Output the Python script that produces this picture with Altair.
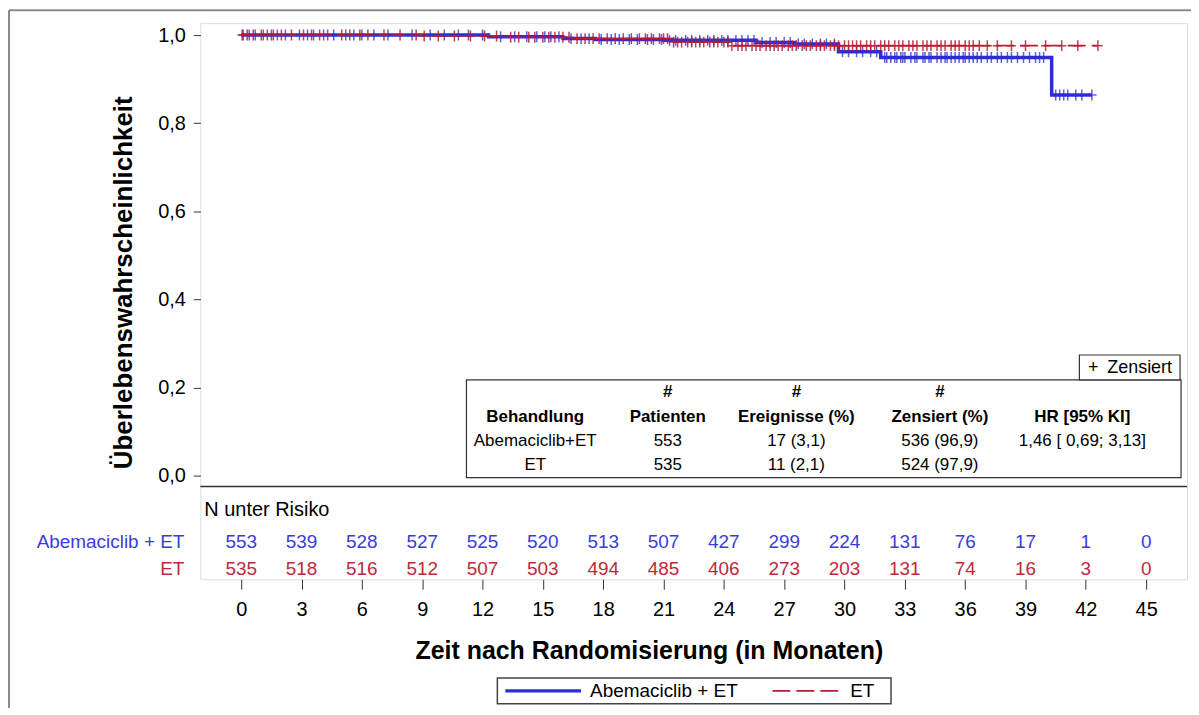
import altair as alt
import pandas as pd

BLUE = "#2c2cd8"
RED = "#b81d33"
BLUE_TXT = "#3b3be0"
RED_TXT = "#c0283a"
FONT = "Liberation Sans, Arial, sans-serif"

arms = ["Abemaciclib + ET", "ET"]

# Kaplan-Meier step curves (months, survival probability)
abema_t = [0, 12.3, 16.0, 17.6, 21.0, 25.6, 27.5, 29.7, 31.8, 40.3, 42.3]
abema_s = [1.0, 0.996, 0.992, 0.990, 0.988, 0.983, 0.980, 0.962, 0.949, 0.864, 0.864]
et_t = [0, 9.0, 13.0, 16.5, 21.5, 24.3, 42.6]
et_s = [1.0, 0.998, 0.995, 0.992, 0.984, 0.976, 0.976]

# censoring times (months)
abema_cens = [0.1, 0.4, 0.7, 1.1, 1.5, 1.8, 2.2, 2.9, 3.3, 3.6, 4.1, 4.6, 5.2, 5.6, 6.0,
              6.6, 7.3, 8.5, 9.4, 10.1, 10.8, 11.3, 12.0, 12.9, 13.6, 14.2, 14.7, 15.1,
              15.4, 15.8, 16.4, 16.9, 17.3, 17.9, 18.4, 18.8, 19.3, 19.7, 20.2, 20.5,
              20.9, 21.3, 21.6, 22.1, 22.4, 22.8, 23.2, 23.5, 23.9, 24.2, 24.6, 24.9,
              25.2, 25.5, 25.9, 26.3, 26.6, 27.0, 27.3, 27.7, 28.0, 28.4, 28.8, 29.1,
              29.5, 29.9, 30.2, 30.6, 30.9, 31.3, 31.6, 32.0, 32.1, 32.3, 32.5, 32.6,
              32.8, 32.9, 33.0, 33.3, 33.5, 33.6, 33.9, 34.0, 34.2, 34.3, 34.6, 34.8,
              35.0, 35.1, 35.3, 35.5, 35.7, 35.9, 36.0, 36.2, 36.4, 36.6, 36.8, 37.1,
              37.3, 37.6, 37.8, 38.1, 38.3, 38.6, 38.9, 39.2, 39.5, 39.7, 39.9, 40.5,
              40.7, 40.9, 41.1, 41.5, 41.8, 42.3]
et_cens = [0.05, 0.3, 0.6, 1.0, 1.3, 1.6, 2.0, 2.5, 3.1, 3.5, 3.9, 4.3, 5.0, 5.4, 5.9,
           6.3, 7.1, 7.9, 8.7, 9.1, 9.8, 10.6, 11.4, 12.1, 12.7, 13.4, 13.8, 14.3, 14.6,
           15.0, 15.3, 15.6, 16.0, 16.3, 16.7, 17.1, 17.5, 17.8, 18.2, 18.6, 19.0, 19.4,
           19.8, 20.1, 20.4, 20.8, 21.0, 21.2, 21.5, 21.7, 21.9, 22.2, 22.4, 22.6, 22.8,
           23.0, 23.3, 23.5, 23.7, 24.0, 24.2, 24.4, 24.7, 24.9, 25.1, 25.4, 25.6, 25.8,
           26.1, 26.3, 26.5, 26.7, 26.9, 27.2, 27.4, 27.6, 27.9, 28.1, 28.3, 28.6, 28.8,
           29.0, 29.3, 29.5, 29.7, 30.0, 30.2, 30.4, 30.6, 30.8, 31.1, 31.3, 31.5, 31.8,
           32.0, 32.2, 32.5, 32.7, 32.9, 33.2, 33.4, 33.6, 33.9, 34.1, 34.3, 34.6, 34.8,
           35.0, 35.3, 35.5, 35.7, 36.0, 36.2, 36.4, 36.7, 37.1, 37.6, 38.3, 39.0, 40.0,
           40.8, 41.6, 42.6]

# numbers at risk
risk_times = [0, 3, 6, 9, 12, 15, 18, 21, 24, 27, 30, 33, 36, 39, 42, 45]
abema_risk = [553, 539, 528, 527, 525, 520, 513, 507, 427, 299, 224, 131, 76, 17, 1, 0]
et_risk = [535, 518, 516, 512, 507, 503, 494, 485, 406, 273, 203, 131, 74, 16, 3, 0]

y_ticks = [0.0, 0.2, 0.4, 0.6, 0.8, 1.0]

# summary table
table_hash = ["", "#", "#", "#", ""]
table_head = ["Behandlung", "Patienten", "Ereignisse (%)", "Zensiert (%)", "HR [95% KI]"]
table_row1 = ["Abemaciclib+ET", "553", "17 (3,1)", "536 (96,9)", "1,46 [ 0,69; 3,13]"]
table_row2 = ["ET", "535", "11 (2,1)", "524 (97,9)", ""]

# ---------------- layout (pixels, relative to plot area) ----------------
W, H = 990, 558
COL_X = [336, 469, 598, 742, 885]
ROW_Y = [370, 395, 419, 443]


def step_value(times, surv, t):
    v = surv[0]
    for ti, si in zip(times, surv):
        if ti <= t:
            v = si
    return v


line_df = pd.DataFrame(
    [{"arm": arms[0], "t": t, "s": s} for t, s in zip(abema_t, abema_s)]
    + [{"arm": arms[1], "t": t, "s": s} for t, s in zip(et_t, et_s)]
)
cens_a = pd.DataFrame({"t": abema_cens, "s": [step_value(abema_t, abema_s, t) for t in abema_cens]})
cens_e = pd.DataFrame({"t": et_cens, "s": [step_value(et_t, et_s, t) for t in et_cens]})
risk_a = pd.DataFrame({"t": risk_times, "n": [str(v) for v in abema_risk]})
risk_e = pd.DataFrame({"t": risk_times, "n": [str(v) for v in et_risk]})

head_rows = []
for i, txt in enumerate(table_hash):
    if txt:
        head_rows.append({"txt": txt, "px": COL_X[i], "py": ROW_Y[0]})
for i, txt in enumerate(table_head):
    head_rows.append({"txt": txt, "px": COL_X[i], "py": ROW_Y[1]})
body_rows = []
for r, row in enumerate([table_row1, table_row2]):
    for i, txt in enumerate(row):
        if txt:
            body_rows.append({"txt": txt, "px": COL_X[i], "py": ROW_Y[2 + r]})
head_df = pd.DataFrame(head_rows)
body_df = pd.DataFrame(body_rows)
ONE = pd.DataFrame({"k": [0]})

X_SCALE = alt.Scale(domain=[-2.03, 47.03], nice=False, zero=False)
Y_SCALE = alt.Scale(domain=[-0.2353, 1.0271], nice=False, zero=False)
X_AXIS = alt.Axis(values=risk_times, title="Zeit nach Randomisierung (in Monaten)",
                  tickSize=10, labelFontSize=20, labelPadding=10, titleFontSize=25,
                  titleFontWeight="bold", titlePadding=20, titleX=450, grid=False,
                  domain=False, tickColor="#333", labelColor="black", titleColor="black")
Y_AXIS = alt.Axis(values=y_ticks, title="Überlebenswahrscheinlichkeit",
                  labelExpr="replace(format(datum.value, '.1f'), '.', ',')",
                  tickSize=7, labelFontSize=20, labelPadding=8, titleFontSize=26,
                  titleFontWeight="bold", titlePadding=21, titleY=260, grid=False,
                  domain=False, tickColor="#333", labelColor="black", titleColor="black")

PLUS = "M-0.85,0L0.85,0M0,-1L0,1"

lines = alt.Chart(line_df).mark_line(interpolate="step-after").encode(
    x=alt.X("t:Q", scale=X_SCALE, axis=X_AXIS),
    y=alt.Y("s:Q", scale=Y_SCALE, axis=Y_AXIS),
    color=alt.Color("arm:N", scale=alt.Scale(domain=arms, range=[BLUE, RED]), legend=None),
    strokeDash=alt.StrokeDash("arm:N", scale=alt.Scale(domain=arms, range=[[1, 0], [18, 6]]), legend=None),
    strokeWidth=alt.StrokeWidth("arm:N", scale=alt.Scale(domain=arms, range=[3.5, 1.6]), legend=None),
)

cens_blue = alt.Chart(cens_a).mark_point(shape=PLUS, size=120, filled=False, color=BLUE,
                                         strokeWidth=1.5, opacity=0.75).encode(
    x=alt.X("t:Q", scale=X_SCALE, axis=X_AXIS), y=alt.Y("s:Q", scale=Y_SCALE, axis=Y_AXIS))
cens_red = alt.Chart(cens_e).mark_point(shape=PLUS, size=120, filled=False, color=RED,
                                        strokeWidth=1.5, opacity=0.85).encode(
    x=alt.X("t:Q", scale=X_SCALE, axis=X_AXIS), y=alt.Y("s:Q", scale=Y_SCALE, axis=Y_AXIS))

risk_blue = alt.Chart(risk_a).mark_text(color=BLUE_TXT, fontSize=19, font=FONT).encode(
    x=alt.X("t:Q", scale=X_SCALE, axis=X_AXIS), y=alt.value(521), text="n:N")
risk_red = alt.Chart(risk_e).mark_text(color=RED_TXT, fontSize=19, font=FONT).encode(
    x=alt.X("t:Q", scale=X_SCALE, axis=X_AXIS), y=alt.value(548), text="n:N")

divider = alt.Chart(ONE).mark_rule(color="#333", strokeWidth=1.5).encode(
    x=alt.value(0), x2=alt.value(W), y=alt.value(465))
risk_title = alt.Chart(ONE).mark_text(text="N unter Risiko", align="left", fontSize=20,
                                      font=FONT, color="black").encode(
    x=alt.value(4), y=alt.value(489))
lab_blue = alt.Chart(ONE).mark_text(text="Abemaciclib + ET", align="right", fontSize=19,
                                    font=FONT, color=BLUE_TXT).encode(
    x=alt.value(-16), y=alt.value(521))
lab_red = alt.Chart(ONE).mark_text(text="ET", align="right", fontSize=19,
                                   font=FONT, color=RED_TXT).encode(
    x=alt.value(-16), y=alt.value(548))

table_box = alt.Chart(ONE).mark_rect(fill="white", stroke="#333", strokeWidth=1.2).encode(
    x=alt.value(267), x2=alt.value(984), y=alt.value(358), y2=alt.value(456))
cens_box = alt.Chart(ONE).mark_rect(fill="white", stroke="#333", strokeWidth=1.2).encode(
    x=alt.value(882), x2=alt.value(983), y=alt.value(333), y2=alt.value(358))
cens_plus = alt.Chart(ONE).mark_text(text="+", align="center", fontSize=18,
                                     font=FONT, color="black").encode(
    x=alt.value(896), y=alt.value(346))
cens_lbl = alt.Chart(ONE).mark_text(text="Zensiert", align="left", fontSize=18,
                                    font=FONT, color="black").encode(
    x=alt.value(910), y=alt.value(346))
head_txt = alt.Chart(head_df).mark_text(fontSize=17, fontWeight="bold", font=FONT,
                                        color="black").encode(
    x=alt.X("px:Q", scale=None, axis=None), y=alt.Y("py:Q", scale=None, axis=None), text="txt:N")
body_txt = alt.Chart(body_df).mark_text(fontSize=17, font=FONT, color="black").encode(
    x=alt.X("px:Q", scale=None, axis=None), y=alt.Y("py:Q", scale=None, axis=None), text="txt:N")

# legend (drawn below the axis title)
leg_box = alt.Chart(ONE).mark_rect(fill="white", stroke="#444", strokeWidth=1.5).encode(
    x=alt.value(298), x2=alt.value(693), y=alt.value(657), y2=alt.value(683))
leg_blue = alt.Chart(ONE).mark_rule(color=BLUE, strokeWidth=3.5).encode(
    x=alt.value(306), x2=alt.value(382), y=alt.value(670))
leg_blue_t = alt.Chart(ONE).mark_text(text=arms[0], align="left", fontSize=19, font=FONT,
                                      color="black").encode(x=alt.value(391), y=alt.value(670))
leg_red = alt.Chart(ONE).mark_rule(color=RED, strokeWidth=1.6, strokeDash=[18, 6]).encode(
    x=alt.value(574), x2=alt.value(644), y=alt.value(670))
leg_red_t = alt.Chart(ONE).mark_text(text=arms[1], align="left", fontSize=19, font=FONT,
                                     color="black").encode(x=alt.value(652), y=alt.value(670))

outer_left = alt.Chart(ONE).mark_rule(color="#8a8a8a", strokeWidth=2).encode(
    x=alt.value(-192), y=alt.value(-13), y2=alt.value(700))
outer_top = alt.Chart(ONE).mark_rule(color="#8a8a8a", strokeWidth=2).encode(
    x=alt.value(-192), x2=alt.value(1000), y=alt.value(-13))

chart = alt.layer(
    lines, cens_blue, cens_red, table_box, cens_box, cens_plus, cens_lbl, head_txt, body_txt,
    divider, risk_title, risk_blue, risk_red, lab_blue, lab_red,
    leg_box, leg_blue, leg_blue_t, leg_red, leg_red_t, outer_left, outer_top,
).properties(
    width=W, height=H,
    padding={"left": 193, "top": 14, "right": 4, "bottom": 128},
    autosize=alt.AutoSizeParams(type="none"),
).configure_view(
    stroke="#333", strokeWidth=1.5
).configure(
    font=FONT
).configure_axis(
    labelFont=FONT, titleFont=FONT
)

chart.save("out.html", embed_options={"renderer": "svg", "actions": False})
